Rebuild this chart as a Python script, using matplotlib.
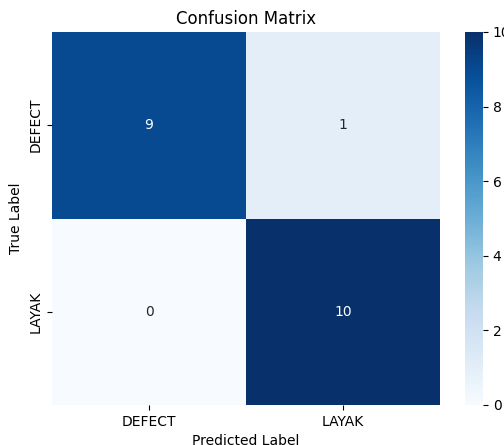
import matplotlib
matplotlib.use("Agg")
import matplotlib.pyplot as plt
import seaborn as sns
import numpy as np

# labels and confusion matrix values
labels = ["DEFECT", "LAYAK"]
row_defect = [9, 1]
row_layak = [0, 10]
cm = np.array([row_defect, row_layak])

fig = plt.figure(figsize=(5.04, 4.45), dpi=100)
ax = fig.add_axes([52/504, 1-405/445, 388/504, 373/445])
cax = fig.add_axes([465/504, 1-405/445, 18/504, 373/445])

sns.heatmap(cm, annot=True, fmt="d", cmap="Blues", xticklabels=labels,
            yticklabels=labels, ax=ax, cbar_ax=cax)
ax.set_title("Confusion Matrix")
ax.set_xlabel("Predicted Label")
ax.set_ylabel("True Label")

fig.savefig("out.png", dpi=100)
